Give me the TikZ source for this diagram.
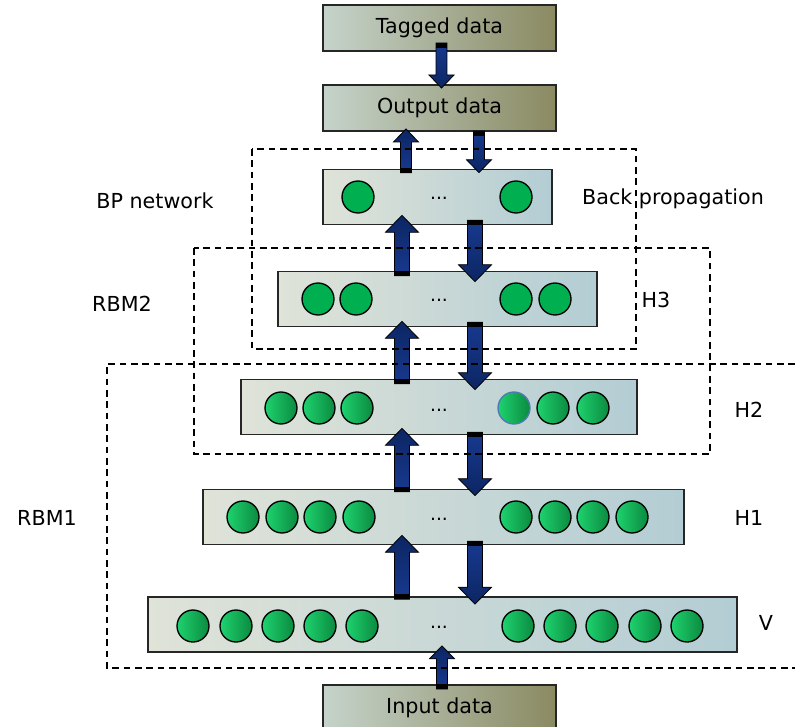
\documentclass[tikz,border=0pt]{standalone}
\usepackage{fontspec}
\setmainfont{DejaVu Sans}
\usetikzlibrary{calc}

\definecolor{layerleft}{HTML}{DFE3D8}
\definecolor{layerright}{HTML}{B3CDD4}
\definecolor{dataleft}{HTML}{C5D3CA}
\definecolor{dataright}{HTML}{8A8A62}
\definecolor{cellflat}{HTML}{00B050}
\definecolor{cellleft}{HTML}{1ED26E}
\definecolor{cellright}{HTML}{0B8A40}
\definecolor{cellring}{HTML}{4F79B5}
\definecolor{arrowdark}{HTML}{0C2663}
\definecolor{arrowlight}{HTML}{18398F}

\newcommand{\shafthw}{5.6pt}
\newcommand{\headhw}{12.4pt}
\newcommand{\headlen}{12.75pt}
\newcommand{\barlen}{3.75pt}
\newcommand{\blockarrow}[3][]{%
  \path[arrowbody,#1] let \p1=(#2), \p2=(#3), \p3=($(\p2)!\headlen!(\p1)$) in
    (\x1-\shafthw,\y1) -- (\x1-\shafthw,\y3) -- (\x1-\headhw,\y3) -- (\x1,\y2)
    -- (\x1+\headhw,\y3) -- (\x1+\shafthw,\y3) -- (\x1+\shafthw,\y1) -- cycle;
  \fill let \p1=(#2), \p2=(#3), \p4=($(\p1)!\barlen!(\p2)$) in
    (\x1-\shafthw,\y1) rectangle (\x1+\shafthw,\y4);
}

\begin{document}
\begin{tikzpicture}[x=0.75pt,y=-0.75pt,
  every node/.style={font=\fontsize{15.5}{18}\selectfont},
  layer/.style={draw=black!85, line width=1.1pt, left color=layerleft, right color=layerright, inner sep=0pt, outer sep=0pt, minimum height=41pt},
  data/.style={draw=black!85, line width=1.1pt, left color=dataleft, right color=dataright, inner sep=0pt, outer sep=0pt, minimum width=174.75pt, minimum height=34.5pt},
  cell/.style={circle, draw=black, line width=1pt, minimum size=24pt, inner sep=0pt, left color=cellleft, right color=cellright},
  flatcell/.style={circle, draw=black, line width=1pt, minimum size=24pt, inner sep=0pt, fill=cellflat},
  dots/.style={font=\fontsize{14}{16}\selectfont, inner sep=0pt},
  arrowbody/.style={draw=black, line width=0.6pt, top color=arrowdark, bottom color=arrowlight},
  downshade/.style={top color=arrowlight, bottom color=arrowdark},
  groupbox/.style={dash pattern=on 5pt off 3.5pt, line width=0.9pt},
  grouptext/.style={inner sep=0pt}]
  \useasboundingbox (0,0) rectangle (795,727);

  % data boxes
  \node[data] (tagged) at (439.5,28) {Tagged data};
  \node[data] (output) at (439.5,108) {Output data};
  \node[data] (input) at (439.5,708) {Input data};

  % layers
  \node[layer, minimum width=171.75pt] (ltop) at (437.5,197) {};
  \node[layer, minimum width=239.25pt] (lh3) at (437.5,299) {};
  \node[layer, minimum width=297pt] (lh2) at (439,407) {};
  \node[layer, minimum width=360.75pt] (lh1) at (443.5,517) {};
  \node[layer, minimum width=441.75pt] (lv) at (442.5,624.5) {};

  % units
  \node[flatcell] (t1) at (358,197) {};
  \node[dots] (tdots) at (439,198) {...};
  \node[flatcell] (t2) at (516,197) {};

  \node[flatcell] (c31) at (318,299) {};
  \node[flatcell] (c32) at (356,299) {};
  \node[dots] (c3dots) at (439,300) {...};
  \node[flatcell] (c33) at (516,299) {};
  \node[flatcell] (c34) at (555,299) {};

  \node[cell] (c21) at (281,408) {};
  \node[cell] (c22) at (319,408) {};
  \node[cell] (c23) at (357,408) {};
  \node[dots] (c2dots) at (439,410) {...};
  \node[cell, draw=cellring] (c24) at (514,408) {};
  \node[cell] (c25) at (553,408) {};
  \node[cell] (c26) at (593,408) {};

  \node[cell] (c11) at (243,517) {};
  \node[cell] (c12) at (282,517) {};
  \node[cell] (c13) at (320,517) {};
  \node[cell] (c14) at (359,517) {};
  \node[dots] (c1dots) at (439,519) {...};
  \node[cell] (c15) at (516,517) {};
  \node[cell] (c16) at (555,517) {};
  \node[cell] (c17) at (593,517) {};
  \node[cell] (c18) at (632,517) {};

  \node[cell] (v1) at (193,626) {};
  \node[cell] (v2) at (236,626) {};
  \node[cell] (v3) at (278,626) {};
  \node[cell] (v4) at (320,626) {};
  \node[cell] (v5) at (362,626) {};
  \node[dots] (vdots) at (439,627) {...};
  \node[cell] (v6) at (518,626) {};
  \node[cell] (v7) at (560,626) {};
  \node[cell] (v8) at (602,626) {};
  \node[cell] (v9) at (645,626) {};
  \node[cell] (v10) at (687,626) {};

  % arrow columns
  \coordinate (ux) at (402,0);
  \coordinate (dx) at (475,0);
  \coordinate (oux) at (406,0);
  \coordinate (odx) at (479,0);
  \coordinate (tx) at (441.5,0);
  \coordinate (ix) at (442,0);

  \blockarrow{$(ux |- lh3.north)+(0,4)$}{$(ux |- ltop.south)+(0,-9)$}
  \blockarrow[downshade]{$(dx |- ltop.south)+(0,-4)$}{$(dx |- lh3.north)+(0,10)$}
  \blockarrow{$(ux |- lh2.north)+(0,4)$}{$(ux |- lh3.south)+(0,-5)$}
  \blockarrow[downshade]{$(dx |- lh3.south)+(0,-4)$}{$(dx |- lh2.north)+(0,10)$}
  \blockarrow{$(ux |- lh1.north)+(0,2)$}{$(ux |- lh2.south)+(0,-6)$}
  \blockarrow[downshade]{$(dx |- lh2.south)+(0,-2)$}{$(dx |- lh1.north)+(0,6)$}
  \blockarrow{$(ux |- lv.north)+(0,2)$}{$(ux |- lh1.south)+(0,-9)$}
  \blockarrow[downshade]{$(dx |- lh1.south)+(0,-3)$}{$(dx |- lv.north)+(0,7)$}
  {\renewcommand{\shafthw}{4.1pt}\renewcommand{\headhw}{9.4pt}\renewcommand{\headlen}{9.75pt}
  \blockarrow[downshade]{$(tx |- tagged.south)+(0,-8)$}{$(tx |- output.north)+(0,3)$}
  \blockarrow[downshade]{$(odx |- output.south)$}{$(odx |- ltop.north)+(0,3)$}
  \blockarrow{$(oux |- ltop.north)+(0,3)$}{$(oux |- output.south)+(0,-2)$}
  \blockarrow{$(ix |- input.north)+(0,4)$}{$(ix |- lv.south)+(0,-6)$}}

  % groups
  \draw[groupbox] (252,149) rectangle (636,349);
  \draw[groupbox] (194,248) rectangle (710,454);
  \draw[groupbox] (795,364) -- (107,364) -- (107,668) -- (795,668);

  \node[grouptext] (bpname) at (155,201) {BP network};
  \node[grouptext] (rbm2name) at (122,304) {RBM2};
  \node[grouptext] (rbm1name) at (47,518) {RBM1};
  \node[grouptext] (bpname2) at (673,199) {Back propagation};
  \node[grouptext] (h3name) at (656,300) {H3};
  \node[grouptext] (h2name) at (749,410) {H2};
  \node[grouptext] (h1name) at (749,518) {H1};
  \node[grouptext] (vname) at (766,623) {V};
\end{tikzpicture}
\end{document}
